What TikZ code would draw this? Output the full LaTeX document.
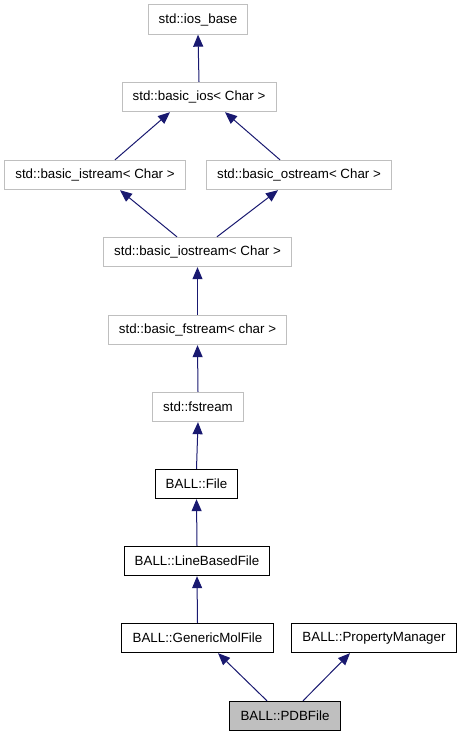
\documentclass[tikz,border=0pt]{standalone}
\usepackage{fontspec}
\setmainfont{Liberation Sans}
\usepackage{tikz}
\usetikzlibrary{arrows.meta,positioning}
\usepackage{xcolor}
\definecolor{edgeNavy}{RGB}{25,25,112}
\definecolor{stdGray}{RGB}{191,191,191}
\definecolor{selGray}{RGB}{191,191,191}

\begin{document}
\begin{tikzpicture}[x=0.75pt, y=-0.75pt,
  cls/.style={rectangle, draw=#1, line width=0.75pt, fill=white,
              minimum height=22pt, inner xsep=8pt, inner ysep=2pt,
              font=\fontsize{10}{12}\selectfont},
  inh/.style={-{Triangle[length=9pt,width=7.5pt]}, edgeNavy, line width=0.75pt}
]
  \useasboundingbox (0,0) rectangle (460,736);
  % std part
  \node[cls=stdGray] (IosBase)  at (198,19.5) {std::ios\_base};
  \node[cls=stdGray] (BasicIos) at (199,97) {std::basic\_ios< Char >};
  \node[cls=stdGray] (IStream)  at (95,175) {std::basic\_istream< Char >};
  \node[cls=stdGray] (OStream)  at (299,175) {std::basic\_ostream< Char >};
  \node[cls=stdGray] (IOStream) at (197.5,252) {std::basic\_iostream< Char >};
  \node[cls=stdGray] (BasicFStream) at (197.5,330) {std::basic\_fstream< char >};
  \node[cls=stdGray] (FStream)  at (198,407) {std::fstream};
  % BALL part
  \node[cls=black] (File)     at (196.5,484) {BALL::File};
  \node[cls=black] (LineFile) at (197,561) {BALL::LineBasedFile};
  \node[cls=black] (MolFile)  at (197.5,638) {BALL::GenericMolFile};
  \node[cls=black] (PropMgr)  at (374,638) {BALL::PropertyManager};
  \node[cls=black, fill=selGray] (PDBFile) at (285,716) {BALL::PDBFile};

  \draw[inh] (BasicIos.north) -- (IosBase.south);
  \draw[inh] ([xshift=15pt]IStream.north) -- ([xshift=-21.75pt]BasicIos.south);
  \draw[inh] ([xshift=-14.25pt]OStream.north) -- ([xshift=19.5pt]BasicIos.south);
  \draw[inh] ([xshift=-15.4pt]IOStream.north) -- ([xshift=18.75pt]IStream.south);
  \draw[inh] ([xshift=14.6pt]IOStream.north) -- ([xshift=-15.75pt]OStream.south);
  \draw[inh] (BasicFStream.north) -- (IOStream.south);
  \draw[inh] (FStream.north) -- (BasicFStream.south);
  \draw[inh] (File.north) -- (FStream.south);
  \draw[inh] (LineFile.north) -- (File.south);
  \draw[inh] (MolFile.north) -- (LineFile.south);
  \draw[inh] ([xshift=-13.5pt]PDBFile.north) -- ([xshift=15.4pt]MolFile.south);
  \draw[inh] ([xshift=13.5pt]PDBFile.north) -- ([xshift=-18pt]PropMgr.south);
\end{tikzpicture}
\end{document}
